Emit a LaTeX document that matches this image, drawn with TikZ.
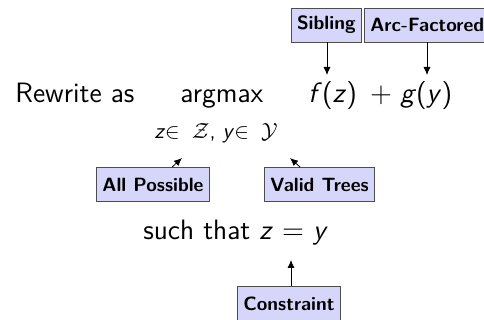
\documentclass[tikz,border=0pt]{standalone}
\usepackage{xcolor}
\usepackage{tikz}
\usetikzlibrary{arrows.meta}
\renewcommand{\familydefault}{\sfdefault}
\definecolor{DDBox}{HTML}{D6D6FA}
\definecolor{DDLine}{HTML}{4D4D4D}
\newcommand{\sv}[1]{\textit{#1}}

\begin{document}
\begin{tikzpicture}[x=0.5pt,y=-0.5pt,
  tagbox/.style={draw=DDLine,fill=DDBox,font=\fontsize{9.6}{12}\selectfont\bfseries,minimum height=17pt,inner xsep=3pt},
  big/.style={font=\fontsize{14}{17}\selectfont,inner sep=0pt},
  tagarrow/.style={-{Latex[length=4pt,width=3.5pt]}}]
\path[use as bounding box] (0,0) rectangle (484,320);
\node[big,anchor=base west] (rewrite) at (15,103) {Rewrite as};
\node[big,anchor=base west] (argmax) at (180,103) {argmax};
\node[big,anchor=base west] (fz) at (308,103) {\sv{f}(\sv{z})};
\node[big,anchor=base] (plus) at (381,103) {$+$};
\node[big,anchor=base west] (gy) at (400,103) {\sv{g}(\sv{y})};
\node[anchor=base,font=\fontsize{11}{13}\selectfont,inner sep=0pt] (sub) at (216,139) {\sv{z}$\in\;\mathcal{Z}$, \sv{y}$\in\;\mathcal{Y}$};
\node[big,anchor=base west] (such) at (143,240) {such that \sv{z} $=$ \sv{y}};
\node[tagbox,anchor=east] (sib) at (362,25) {Sibling};
\node[tagbox,anchor=west] (arc) at (364,25) {Arc-Factored};
\node[tagbox] (allp) at (153,184.5) {All Possible};
\node[tagbox] (valid) at (319.5,184.5) {Valid Trees};
\node[tagbox] (cons) at (289,303.5) {Constraint};
\coordinate (ftop) at (327,75);
\coordinate (gtop) at (427,75);
\coordinate (zset) at (182,158);
\coordinate (yset) at (290,158);
\coordinate (stbot) at (291,260);
\draw[tagarrow] (sib.south -| ftop) -- (ftop);
\draw[tagarrow] (arc.south -| gtop) -- (gtop);
\draw[tagarrow] (allp) -- (zset);
\draw[tagarrow] (valid) -- (yset);
\draw[tagarrow] (cons.north -| stbot) -- (stbot);
\end{tikzpicture}
\end{document}
